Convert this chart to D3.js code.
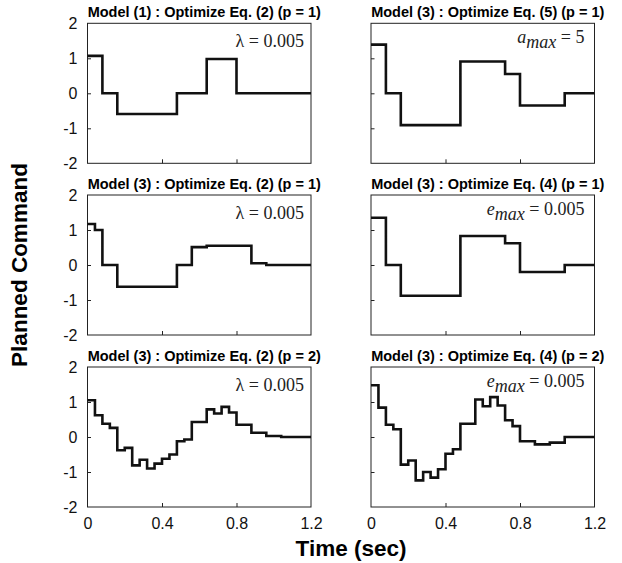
<!DOCTYPE html>
<html>
<head>
<meta charset="utf-8">
<script src="https://cdn.jsdelivr.net/npm/d3@7"></script>
<style>
  body { margin: 0; background: #fff; }
  svg { display: block; }
  .title { font-family: "Liberation Sans", Arial, sans-serif; font-weight: bold; font-size: 14.5px; }
  .tick-label { font-family: "Liberation Sans", Arial, sans-serif; font-size: 16px; }
  .axis-title { font-family: "Liberation Sans", Arial, sans-serif; font-weight: bold; font-size: 22.5px; }
  .note { font-family: "Liberation Serif", "Times New Roman", serif; font-size: 18px; fill: #222; }
</style>
</head>
<body>
<div id="chart"></div>
<script>
// Planned command step responses, one pair of arrays per panel

const timeTicks = [0, 0.4, 0.8, 1.2]
const valueTicks = [-2, -1, 0, 1, 2]

const titles = [
  'Model (1) : Optimize Eq. (2) (p = 1)',
  'Model (3) : Optimize Eq. (5) (p = 1)',
  'Model (3) : Optimize Eq. (2) (p = 1)',
  'Model (3) : Optimize Eq. (4) (p = 1)',
  'Model (3) : Optimize Eq. (2) (p = 2)',
  'Model (3) : Optimize Eq. (4) (p = 2)'
]

// annotation: symbol, subscript, value
const notes = [
  ['λ', '', '0.005'],
  ['a', 'max', '5'],
  ['λ', '', '0.005'],
  ['e', 'max', '0.005'],
  ['λ', '', '0.005'],
  ['e', 'max', '0.005']
]

const p1T = [0, 0.08, 0.16, 0.48, 0.64, 0.80, 1.20]
const p1U = [1.07, 0, -0.59, 0, 0.98, 0, 0]

const p2T = [0, 0.08, 0.16, 0.48, 0.72, 0.80, 1.04, 1.20]
const p2U = [1.39, 0, -0.91, 0.91, 0.55, -0.35, 0, 0]

const p3T = [0, 0.04, 0.08, 0.16, 0.48, 0.56, 0.64, 0.88, 0.96, 1.20]
const p3U = [1.17, 1.0, 0, -0.62, 0, 0.51, 0.55, 0.05, 0, 0]

const p4T = [0, 0.08, 0.16, 0.48, 0.72, 0.80, 1.04, 1.20]
const p4U = [1.35, 0, -0.88, 0.83, 0.62, -0.2, 0, 0]

const p5T = [0, 0.04, 0.08, 0.12, 0.16, 0.20, 0.24, 0.28, 0.32, 0.36, 0.40, 0.44,
  0.48, 0.52, 0.56, 0.64, 0.68, 0.72, 0.76, 0.80, 0.88, 0.96, 1.04, 1.20]
const p5U = [1.05, 0.62, 0.38, 0.26, -0.38, -0.31, -0.81, -0.65, -0.90, -0.76, -0.62, -0.50,
  -0.12, -0.07, 0.43, 0.79, 0.67, 0.86, 0.70, 0.35, 0.12, 0.03, 0, 0]

const p6T = [0, 0.04, 0.08, 0.12, 0.16, 0.20, 0.24, 0.28, 0.32, 0.36, 0.40, 0.44,
  0.48, 0.56, 0.60, 0.64, 0.68, 0.72, 0.76, 0.80, 0.88, 0.96, 1.04, 1.20]
const p6U = [1.48, 0.84, 0.35, 0.22, -0.79, -0.67, -1.24, -1.0, -1.16, -0.92, -0.48, -0.35,
  0.38, 1.07, 0.88, 1.14, 0.90, 0.48, 0.31, -0.12, -0.21, -0.16, 0, 0]

const series = [[p1T, p1U], [p2T, p2U], [p3T, p3U], [p4T, p4U], [p5T, p5U], [p6T, p6U]]

// Layout
let width = 622,
    height = 563,
    colX = [87.5, 371],
    rowY = [23.3, 195, 367],
    panelW = 223.5,
    panelH = 140

let svg = d3.select('#chart').append('svg')
    .attr('width', width)
    .attr('height', height)

// plain hyphen minus, like the original figure
let plainFormat = d => String(d)

series.forEach((s, i) => {
  let col = i % 2,
      row = Math.floor(i / 2)

  let x = d3.scaleLinear().domain([0, 1.2]).range([0, panelW]),
      y = d3.scaleLinear().domain([-2, 2]).range([panelH, 0])

  let g = svg.append('g')
      .attr('transform', 'translate(' + colX[col] + ',' + rowY[row] + ')')

  // Axes with inward ticks
  let yAxis = d3.axisLeft(y).tickValues(valueTicks).tickSize(-3.5).tickPadding(10)
      .tickFormat(plainFormat)
  let xAxis = d3.axisBottom(x).tickValues(timeTicks).tickSize(-4).tickPadding(11)
      .tickFormat(plainFormat)

  let ya = g.append('g').call(yAxis)
  let xa = g.append('g').attr('transform', 'translate(0,' + panelH + ')').call(xAxis)

  ya.select('.domain').remove()
  xa.select('.domain').remove()
  ya.selectAll('.tick line').attr('stroke', '#222')
  xa.selectAll('.tick line').attr('stroke', '#222')
  ya.selectAll('.tick text').attr('class', 'tick-label').attr('fill', '#111')
      .style('display', col === 0 ? null : 'none')
  xa.selectAll('.tick text').attr('class', 'tick-label').attr('fill', '#111')
      .style('display', row === 2 ? null : 'none')
  ya.selectAll('.tick').filter(d => d === 2 || d === -2).select('line').remove()
  xa.selectAll('.tick').filter(d => d === 0 || d === 1.2).select('line').remove()

  // Box
  g.append('rect')
    .attr('width', panelW)
    .attr('height', panelH)
    .attr('fill', 'none')
    .attr('stroke', '#222')
    .attr('stroke-width', 1)

  // Step line
  let line = d3.line()
      .x(d => x(d[0]))
      .y(d => y(d[1]))
      .curve(d3.curveStepAfter)

  g.append('path')
    .datum(d3.zip(s[0], s[1]))
    .attr('d', line)
    .attr('fill', 'none')
    .attr('stroke', '#111')
    .attr('stroke-width', 2.6)
    .attr('stroke-linejoin', 'miter')

  // Title
  g.append('text')
    .attr('class', 'title')
    .attr('x', panelW / 2 + 5)
    .attr('y', -6.5)
    .attr('text-anchor', 'middle')
    .text(titles[i])

  // Annotation
  let n = notes[i]
  let t = g.append('text')
      .attr('class', 'note')
      .attr('text-anchor', 'end')
      .attr('x', panelW - (n[1] ? 10 : 7))
      .attr('y', n[1] ? 19.5 : 23.5)
  if (n[1]) {
    t.append('tspan').style('font-style', 'italic').text(n[0])
    t.append('tspan').style('font-style', 'italic').attr('dy', 5).text(n[1])
    t.append('tspan').attr('dy', -5).text(' = ' + n[2])
  } else {
    t.text(n[0] + ' = ' + n[2])
  }
})

// Shared axis titles
svg.append('text')
  .attr('class', 'axis-title')
  .attr('text-anchor', 'middle')
  .attr('x', 351)
  .attr('y', 556)
  .text('Time (sec)')

svg.append('text')
  .attr('class', 'axis-title')
  .attr('text-anchor', 'middle')
  .attr('transform', 'translate(27,265) rotate(-90)')
  .text('Planned Command')
</script>
</body>
</html>
